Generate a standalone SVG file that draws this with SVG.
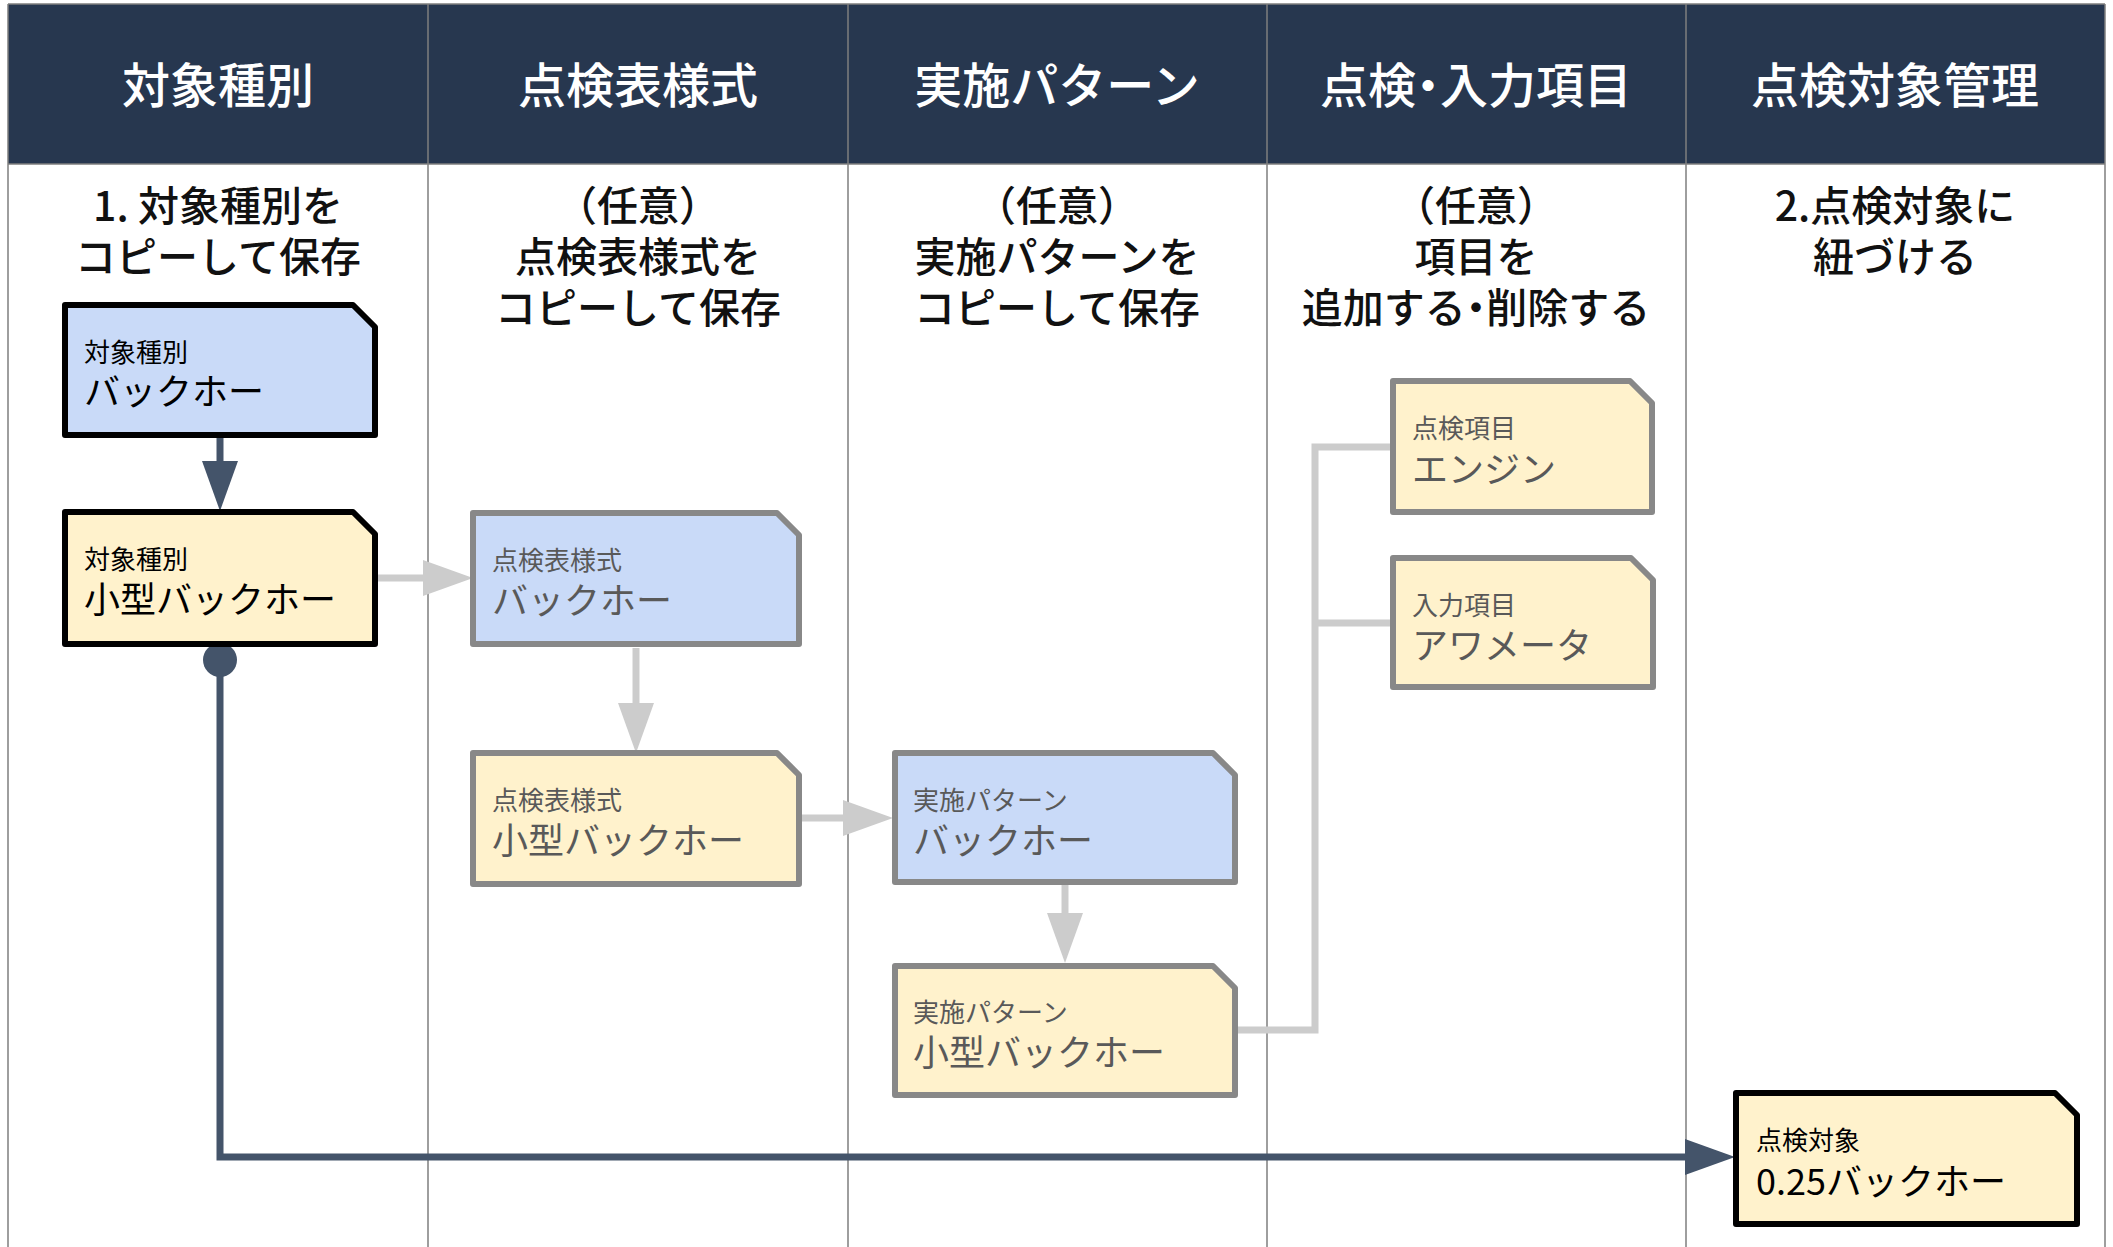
<svg xmlns="http://www.w3.org/2000/svg" width="2113" height="1247" viewBox="0 0 2113 1247">
  <style>
    text { font-family: "Noto Sans CJK JP", "Noto Sans", sans-serif; }
    .hdr { fill: #ffffff; font-size: 48px; font-weight: 500; text-anchor: middle; }
    .step { fill: #111111; font-size: 41px; font-weight: 500; text-anchor: middle; }
    .p { font-feature-settings: "palt"; }
    .sm { font-size: 26px; }
    .lg { font-size: 36px; }
    .active .box { stroke: #000000; stroke-width: 6; stroke-linejoin: round; }
    .active text { fill: #000000; }
    .dim .box { stroke: #888888; stroke-width: 6; stroke-linejoin: round; }
    .dim text { fill: #595959; }
    .blue { fill: #c9daf8; }
    .yellow { fill: #fff2cc; }
    .grid { stroke: #7f7f7f; stroke-width: 1.5; fill: none; }
    .gline { stroke: #cccccc; stroke-width: 7; fill: none; }
    .dline { stroke: #44546a; stroke-width: 7; fill: none; }
  </style>
  <defs>
    <marker id="ag" markerUnits="userSpaceOnUse" markerWidth="52" markerHeight="40" refX="0" refY="18" orient="auto">
      <path d="M0,0 L50,18 L0,36 Z" fill="#cccccc"/>
    </marker>
    <marker id="ad" markerUnits="userSpaceOnUse" markerWidth="52" markerHeight="40" refX="0" refY="18" orient="auto">
      <path d="M0,0 L50,18 L0,36 Z" fill="#44546a"/>
    </marker>
  </defs>

  <rect width="2113" height="1247" fill="#ffffff"/>

  <g id="lanes">
    <rect x="8" y="4" width="2097" height="160" fill="#27374f"/>
    <path class="grid" d="M8,4 H2105 M8,164 H2105 M8,4 V1247 M428,4 V1247 M848,4 V1247 M1267,4 V1247 M1686,4 V1247 M2105,4 V1247"/>
    <text class="hdr" x="218" y="103">対象種別</text>
    <text class="hdr" x="638" y="103">点検表様式</text>
    <text class="hdr" x="1057" y="103">実施パターン</text>
    <text class="hdr" x="1476" y="103">点検<tspan class="p">・</tspan>入力項目</text>
    <text class="hdr" x="1895" y="103">点検対象管理</text>

    <text class="step" x="218" y="221">1. 対象種別を</text>
    <text class="step" x="218" y="272">コピーして保存</text>
    <text class="step" x="638" y="221">（任意）</text>
    <text class="step" x="638" y="272">点検表様式を</text>
    <text class="step" x="638" y="323">コピーして保存</text>
    <text class="step" x="1057" y="221">（任意）</text>
    <text class="step" x="1057" y="272">実施パターンを</text>
    <text class="step" x="1057" y="323">コピーして保存</text>
    <text class="step" x="1476" y="221">（任意）</text>
    <text class="step" x="1476" y="272">項目を</text>
    <text class="step" x="1476" y="323">追加する<tspan class="p">・</tspan>削除する</text>
    <text class="step" x="1895" y="221">2.点検対象に</text>
    <text class="step" x="1895" y="272">紐づける</text>
  </g>

  <g id="connectors">
    <path class="dline" d="M220,438 V461" marker-end="url(#ad)"/>
    <path class="gline" d="M378,578 H423" marker-end="url(#ag)"/>
    <path class="gline" d="M636,648 V703" marker-end="url(#ag)"/>
    <path class="gline" d="M802,818 H843" marker-end="url(#ag)"/>
    <path class="gline" d="M1065,885 V913" marker-end="url(#ag)"/>
    <path class="gline" d="M1238,1030 H1315 V447 H1393 M1315,623 H1393"/>
    <circle cx="220" cy="660" r="17" fill="#44546a"/>
    <path class="dline" d="M220,660 V1157 H1685" marker-end="url(#ad)"/>
  </g>

  <g id="n1" class="active">
    <path class="box blue" d="M65,305 H353 L375,327 V435 H65 Z"/>
    <text class="sm" x="84" y="362">対象種別</text>
    <text class="lg" x="84" y="405">バックホー</text>
  </g>
  <g id="n2" class="active">
    <path class="box yellow" d="M65,512 H353 L375,534 V644 H65 Z"/>
    <text class="sm" x="84" y="569">対象種別</text>
    <text class="lg" x="84" y="613">小型バックホー</text>
  </g>
  <g id="n3" class="dim">
    <path class="box blue" d="M473,513 H777 L799,535 V644 H473 Z"/>
    <text class="sm" x="492" y="570">点検表様式</text>
    <text class="lg" x="492" y="614">バックホー</text>
  </g>
  <g id="n4" class="dim">
    <path class="box yellow" d="M473,753 H777 L799,775 V884 H473 Z"/>
    <text class="sm" x="492" y="810">点検表様式</text>
    <text class="lg" x="492" y="854">小型バックホー</text>
  </g>
  <g id="n5" class="dim">
    <path class="box blue" d="M895,753 H1213 L1235,775 V882 H895 Z"/>
    <text class="sm" x="913" y="810">実施パターン</text>
    <text class="lg" x="913" y="854">バックホー</text>
  </g>
  <g id="n6" class="dim">
    <path class="box yellow" d="M895,966 H1213 L1235,988 V1095 H895 Z"/>
    <text class="sm" x="913" y="1022">実施パターン</text>
    <text class="lg" x="913" y="1066">小型バックホー</text>
  </g>
  <g id="n7" class="dim">
    <path class="box yellow" d="M1393,381 H1630 L1652,403 V512 H1393 Z"/>
    <text class="sm" x="1412" y="438">点検項目</text>
    <text class="lg" x="1412" y="483">エンジン</text>
  </g>
  <g id="n8" class="dim">
    <path class="box yellow" d="M1393,558 H1631 L1653,580 V687 H1393 Z"/>
    <text class="sm" x="1412" y="615">入力項目</text>
    <text class="lg" x="1412" y="659">アワメータ</text>
  </g>
  <g id="n9" class="active">
    <path class="box yellow" d="M1736,1093 H2055 L2077,1115 V1224 H1736 Z"/>
    <text class="sm" x="1756" y="1150">点検対象</text>
    <text class="lg" x="1756" y="1195">0.25バックホー</text>
  </g>
</svg>
